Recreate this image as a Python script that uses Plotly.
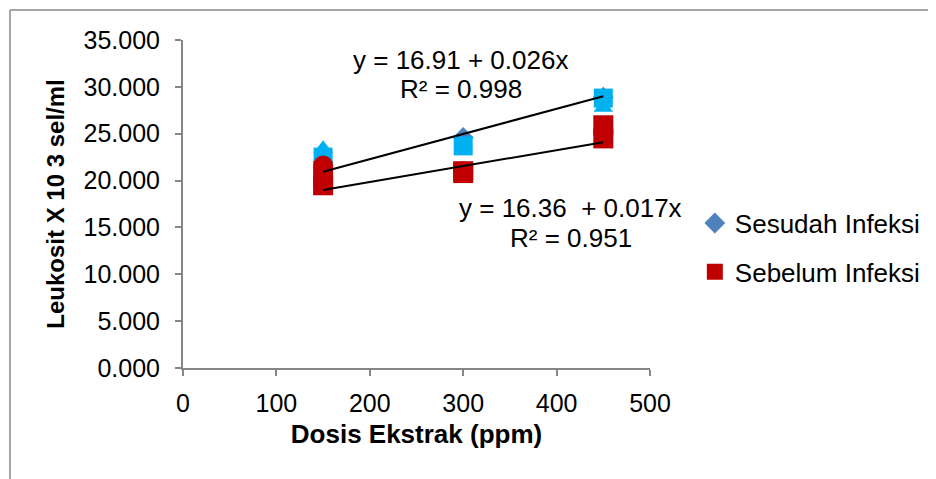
import plotly.graph_objects as go

dose = [150, 300, 450]

# Sesudah Infeksi (after infection) replicates
sesudah_diamond = [22.0, 24.6, 28.9]
sesudah_triangle = [23.4, 23.8, 27.8]
sesudah_square = [22.5, 23.7, 28.8]

# Sebelum Infeksi (before infection) replicates
sebelum_square = [19.5, 21.0, 24.5]
sebelum_square2 = [20.4, 20.8, 25.9]
sebelum_circle = [21.6, 21.0, 25.2]

# Linear trendlines as drawn (values at the first and last dose)
trend_x = [150, 450]
trend_sesudah = [20.95, 29.0]
trend_sebelum = [19.0, 24.1]

y_ticks = [0, 5, 10, 15, 20, 25, 30, 35]
y_ticktext = ["0.000", "5.000", "10.000", "15.000", "20.000", "25.000", "30.000", "35.000"]
x_ticks = [0, 100, 200, 300, 400, 500]

STEEL = "#4F81BD"
SKY = "#00B0F0"
RED = "#C00000"
FONT = "Liberation Sans, Arial, sans-serif"
NOLINE = dict(width=0)

fig = go.Figure()

fig.add_trace(go.Scatter(x=dose, y=sesudah_diamond, mode="markers", name="Sesudah Infeksi",
                         legendgroup="a",
                         marker=dict(symbol="diamond", size=16, color=STEEL, line=NOLINE)))
fig.add_trace(go.Scatter(x=dose, y=sesudah_triangle, mode="markers", showlegend=False,
                         marker=dict(symbol="triangle-up", size=17, color=SKY, line=NOLINE),
                         hoverinfo="skip"))
fig.add_trace(go.Scatter(x=dose, y=sesudah_square, mode="markers", showlegend=False,
                         marker=dict(symbol="square", size=19, color=SKY, line=NOLINE),
                         hoverinfo="skip"))
fig.add_trace(go.Scatter(x=dose, y=sebelum_circle, mode="markers", showlegend=False,
                         marker=dict(symbol="circle", size=20, color=RED, line=NOLINE),
                         hoverinfo="skip"))
fig.add_trace(go.Scatter(x=dose, y=sebelum_square2, mode="markers", showlegend=False,
                         marker=dict(symbol="square", size=20, color=RED, line=NOLINE),
                         hoverinfo="skip"))
fig.add_trace(go.Scatter(x=dose, y=sebelum_square, mode="markers", name="Sebelum Infeksi",
                         legendgroup="b",
                         marker=dict(symbol="square", size=20, color=RED, line=NOLINE)))

# trendlines
for ys in (trend_sesudah, trend_sebelum):
    fig.add_trace(go.Scatter(x=trend_x, y=ys, mode="lines",
                             showlegend=False, line=dict(color="black", width=2),
                             hoverinfo="skip"))

ann_font = dict(size=26, color="black", family=FONT)
fig.add_annotation(x=296.6, y=32.87, xref="x", yref="y", text="y = 16.91 + 0.026x",
                   showarrow=False, font=ann_font)
fig.add_annotation(x=297.5, y=29.77, xref="x", yref="y", text="R² = 0.998",
                   showarrow=False, font=ann_font)
fig.add_annotation(x=415.4, y=17.07, xref="x", yref="y", text="y = 16.36  + 0.017x",
                   showarrow=False, font=ann_font)
fig.add_annotation(x=415.4, y=13.87, xref="x", yref="y", text="R² = 0.951",
                   showarrow=False, font=ann_font)

# outer frame lines
fig.add_shape(type="line", xref="paper", yref="paper", x0=-0.3705, x1=-0.3705, y0=-0.5, y1=1.0915,
              line=dict(color="#A6A6A6", width=2))
fig.add_shape(type="line", xref="paper", yref="paper", x0=-0.3705, x1=1.8, y0=1.0915, y1=1.0915,
              line=dict(color="#A6A6A6", width=2))

fig.update_layout(
    width=936, height=479,
    margin=dict(l=175, r=294, t=32, b=119),
    paper_bgcolor="white", plot_bgcolor="white",
    font=dict(family=FONT, size=26, color="black"),
    xaxis=dict(range=[0, 500], tickvals=x_ticks, showgrid=False, zeroline=False,
               showline=True, linecolor="#868686", linewidth=2,
               ticks="outside", ticklen=6, tickcolor="#868686", tickwidth=2,
               tickfont=dict(size=25), ticklabelstandoff=6,
               title=dict(text="<b>Dosis Ekstrak (ppm)</b>", font=dict(size=26), standoff=9)),
    yaxis=dict(range=[0, 35], tickvals=y_ticks, ticktext=y_ticktext, showgrid=False,
               zeroline=False, showline=True, linecolor="#868686", linewidth=2,
               ticks="outside", ticklen=6, tickcolor="#868686", tickwidth=2,
               tickfont=dict(size=25), ticklabelstandoff=10,
               title=dict(text="<b>Leukosit X 10 3 sel/ml</b>", font=dict(size=24), standoff=12)),
    legend=dict(x=1.096, y=0.367, xanchor="left", yanchor="middle",
                font=dict(size=26), tracegroupgap=12, traceorder="grouped",
                bgcolor="rgba(0,0,0,0)", itemwidth=30),
)

fig.write_html("out.html")
